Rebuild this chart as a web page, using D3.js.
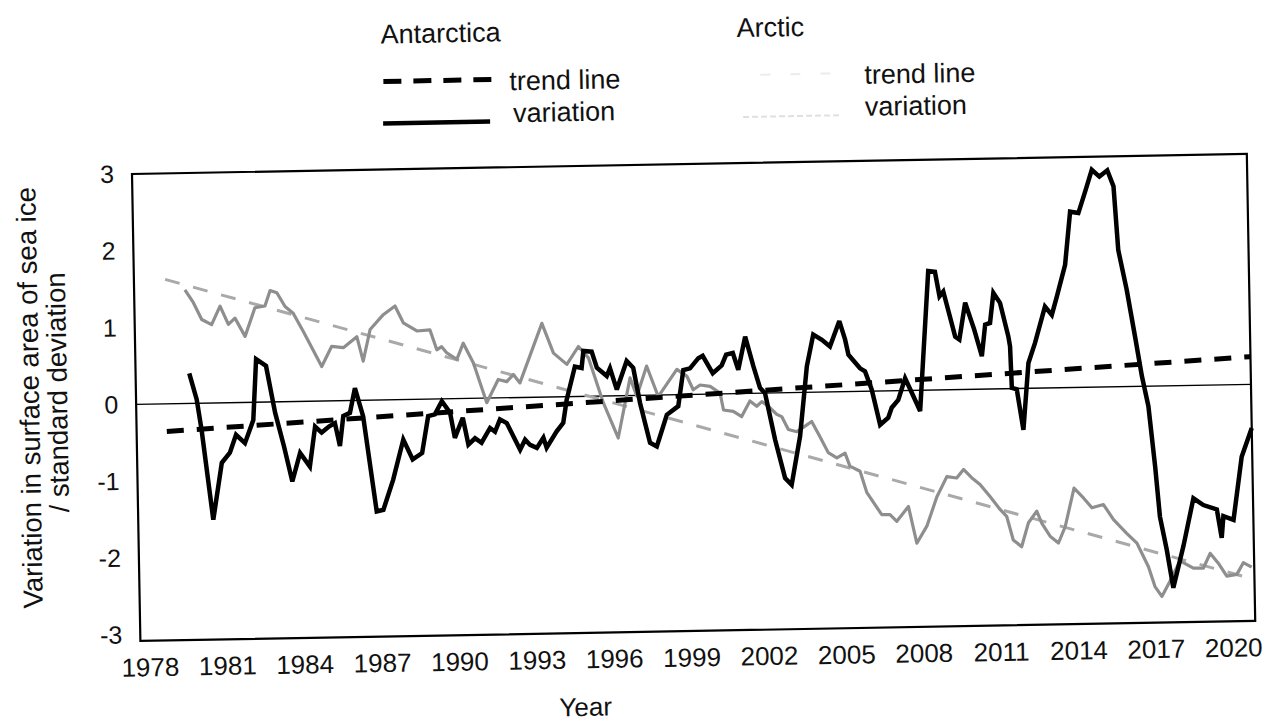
<!DOCTYPE html>
<html><head><meta charset="utf-8">
<script src="https://cdn.jsdelivr.net/npm/d3@7"></script>
<style>
html,body{margin:0;padding:0;background:#fff;}
svg{display:block;font-family:"Liberation Sans",Arial,Helvetica,sans-serif;}
</style>
</head><body>
<div id="chart"></div>
<script>
// ---------- data ----------
const xTickYears = [1978,1981,1984,1987,1990,1993,1996,1999,2002,2005,2008,2011,2014,2017,2020];
const yTickValues = [-3,-2,-1,0,1,2,3];

const antarcticYears = [1979.73,1980.00,1980.17,1980.56,1980.93,1981.25,1981.50,1981.84,1982.18,1982.33,1982.71,1983.03,1983.35,1983.65,1983.97,1984.34,1984.57,1984.82,1985.12,1985.34,1985.52,1985.67,1985.93,1986.14,1986.44,1986.90,1987.16,1987.56,1987.98,1988.33,1988.70,1988.96,1989.22,1989.50,1989.81,1989.98,1990.30,1990.50,1990.76,1991.01,1991.35,1991.54,1991.74,1992.00,1992.50,1992.70,1992.89,1993.15,1993.41,1993.53,1993.93,1994.19,1994.34,1994.68,1994.94,1995.02,1995.34,1995.53,1995.91,1996.04,1996.29,1996.69,1996.94,1997.18,1997.54,1997.80,1998.21,1998.66,1998.88,1999.14,1999.47,1999.64,2000.02,2000.37,2000.55,2000.81,2001.01,2001.30,2001.60,2001.84,2002.03,2002.39,2002.75,2003.00,2003.36,2003.67,2003.94,2004.27,2004.58,2004.96,2005.17,2005.29,2005.73,2005.92,2006.17,2006.47,2006.79,2006.93,2007.19,2007.47,2007.72,2008.03,2008.44,2008.70,2008.86,2009.01,2009.44,2009.60,2009.85,2010.18,2010.46,2010.61,2010.80,2010.95,2011.20,2011.50,2011.56,2011.60,2011.79,2012.02,2012.26,2012.53,2012.94,2013.20,2013.41,2013.75,2013.98,2014.30,2014.58,2014.85,2015.14,2015.45,2015.68,2015.82,2016.12,2016.41,2016.65,2016.88,2017.10,2017.25,2017.49,2017.72,2018.14,2018.56,2018.94,2019.46,2019.63,2019.71,2020.10,2020.46,2020.87];
const antarcticValues = [0.39,0.05,-0.35,-1.52,-0.78,-0.65,-0.42,-0.53,-0.23,0.56,0.47,-0.14,-0.58,-1.04,-0.67,-0.85,-0.33,-0.41,-0.33,-0.29,-0.59,-0.20,-0.16,0.16,-0.21,-1.45,-1.43,-1.04,-0.52,-0.78,-0.70,-0.22,-0.20,-0.03,-0.18,-0.51,-0.25,-0.60,-0.52,-0.58,-0.39,-0.44,-0.28,-0.33,-0.68,-0.55,-0.62,-0.66,-0.53,-0.66,-0.45,-0.34,-0.04,0.39,0.37,0.59,0.58,0.37,0.26,0.36,0.08,0.45,0.36,-0.10,-0.62,-0.67,-0.26,-0.15,0.32,0.34,0.47,0.50,0.27,0.37,0.51,0.53,0.31,0.74,0.35,0.07,0.00,-0.61,-1.11,-1.20,-0.57,0.34,0.75,0.68,0.59,0.92,0.68,0.48,0.30,0.26,0.02,-0.44,-0.35,-0.22,-0.12,0.16,-0.03,-0.27,1.55,1.54,1.22,1.28,0.69,0.65,1.13,0.78,0.43,0.84,0.86,1.25,1.12,0.68,0.55,0.01,-0.01,-0.54,0.33,0.59,1.06,0.95,1.19,1.60,2.29,2.27,2.55,2.83,2.74,2.82,2.61,1.78,1.26,0.65,0.13,-0.26,-1.05,-1.70,-2.13,-2.63,-2.09,-1.47,-1.56,-1.62,-1.99,-1.71,-1.76,-0.94,-0.57];

const arcticYears = [1979.62,1979.94,1980.25,1980.63,1980.97,1981.28,1981.54,1981.92,1982.32,1982.71,1982.92,1983.18,1983.49,1983.80,1984.18,1984.87,1985.27,1985.72,1986.25,1986.48,1986.77,1987.29,1987.75,1988.06,1988.58,1989.09,1989.34,1989.53,1989.72,1990.11,1990.37,1990.75,1991.24,1991.70,1992.03,1992.29,1992.54,1993.43,1993.86,1994.37,1994.83,1995.21,1995.76,1996.31,1996.81,1997.06,1997.46,1997.89,1998.63,1999.01,1999.25,1999.52,1999.91,2000.29,2000.41,2000.79,2001.11,2001.44,2001.70,2001.90,2002.15,2002.47,2002.66,2002.91,2003.24,2003.56,2003.82,2004.13,2004.44,2004.77,2005.09,2005.27,2005.66,2005.91,2006.47,2006.79,2007.05,2007.51,2007.81,2008.21,2008.62,2009.02,2009.40,2009.67,2009.98,2010.30,2010.68,2011.06,2011.31,2011.55,2011.87,2012.15,2012.48,2012.67,2012.98,2013.30,2013.57,2013.94,2014.30,2014.62,2015.07,2015.45,2015.95,2016.34,2016.52,2016.77,2017.01,2017.27,2017.60,2018.00,2018.51,2018.90,2019.17,2019.48,2019.80,2020.19,2020.45,2020.77];
const arcticValues = [1.48,1.31,1.09,1.02,1.26,1.02,1.10,0.86,1.23,1.25,1.45,1.42,1.24,1.15,0.91,0.45,0.71,0.69,0.83,0.51,0.92,1.11,1.22,1.00,0.89,0.90,0.64,0.68,0.60,0.51,0.72,0.46,-0.06,0.24,0.21,0.30,0.19,0.96,0.57,0.42,0.65,0.50,-0.09,-0.55,0.23,-0.01,0.38,-0.02,0.33,0.24,0.06,0.12,0.10,0.01,-0.21,-0.23,-0.30,-0.10,-0.17,-0.11,-0.17,-0.28,-0.31,-0.48,-0.51,-0.44,-0.38,-0.58,-0.79,-0.86,-0.80,-0.97,-1.04,-1.32,-1.61,-1.61,-1.70,-1.51,-1.99,-1.77,-1.39,-1.13,-1.15,-1.04,-1.15,-1.24,-1.40,-1.57,-1.66,-1.97,-2.06,-1.75,-1.60,-1.76,-1.93,-2.02,-1.81,-1.31,-1.44,-1.57,-1.53,-1.73,-1.91,-2.04,-2.17,-2.35,-2.61,-2.74,-2.54,-2.28,-2.38,-2.38,-2.19,-2.32,-2.49,-2.47,-2.32,-2.38];

const antarcticTrendYears = [1978.82, 2020.86];
const antarcticTrendValues = [-0.36, 0.36];
const arcticTrendYears = [1978.86, 2020.86];
const arcticTrendValues = [1.62, -2.54];

const yTitleLines = ["Variation in surface area of sea ice", "/ standard deviation"];
const xTitle = "Year";
const groupTitles = ["Antarctica", "Arctic"];
const legendLabels = ["trend line", "variation"];

// ---------- layout ----------
const W = 1263, H = 724;
const L = 132, T = 174, PW = 1115, PH = 467;
const tilt = -1.03;

const svg = d3.select("#chart").append("svg").attr("width", W).attr("height", H);
svg.append("rect").attr("width", W).attr("height", H).attr("fill", "#fff");
const g = svg.append("g").attr("transform", `rotate(${tilt},${L},${T})`);

const x = d3.scaleLinear().domain([1977.65, 2020.87]).range([L, L + PW]);
const y = d3.scaleLinear().domain([-3.08, 3]).range([T + PH, T]);

const line = d3.line().x(d => x(d[0])).y(d => y(d[1]));
const zip = (a, b) => a.map((v, i) => [v, b[i]]);

// zero line
g.append("line").attr("x1", L).attr("x2", L + PW).attr("y1", y(0)).attr("y2", y(0))
  .attr("stroke", "#000").attr("stroke-width", 1.4);

// Arctic
g.append("path").datum(zip(arcticTrendYears, arcticTrendValues)).attr("d", line)
  .attr("fill", "none").attr("stroke", "#a9a9a9").attr("stroke-width", 3).attr("stroke-dasharray", "15 14");
g.append("path").datum(zip(arcticYears, arcticValues)).attr("d", line)
  .attr("fill", "none").attr("stroke", "#8e8e8e").attr("stroke-width", 3.2).attr("stroke-linejoin", "round");

// Antarctica
g.append("path").datum(zip(antarcticTrendYears, antarcticTrendValues)).attr("d", line)
  .attr("fill", "none").attr("stroke", "#000").attr("stroke-width", 5).attr("stroke-dasharray", "17 13");
g.append("path").datum(zip(antarcticYears, antarcticValues)).attr("d", line)
  .attr("fill", "none").attr("stroke", "#000").attr("stroke-width", 4.5).attr("stroke-linejoin", "miter").attr("stroke-miterlimit", 3);

// frame
g.append("rect").attr("x", L).attr("y", T).attr("width", PW).attr("height", PH)
  .attr("fill", "none").attr("stroke", "#000").attr("stroke-width", 2.2);

// axes
const xAxis = g.append("g").attr("transform", `translate(0,${T + PH})`)
  .call(d3.axisBottom(x).tickValues(xTickYears).tickSize(0).tickPadding(17).tickFormat(d => String(d)));
xAxis.select(".domain").remove();
xAxis.selectAll("text").attr("font-size", 26).attr("fill", "#111").style("font-family", "Liberation Sans, Arial, sans-serif");

const yAxis = g.append("g").attr("transform", `translate(${L},0)`)
  .call(d3.axisLeft(y).tickValues(yTickValues).tickSize(0).tickPadding(18).tickFormat(d => String(d)));
yAxis.select(".domain").remove();
yAxis.selectAll("text").attr("font-size", 25).attr("fill", "#111").style("font-family", "Liberation Sans, Arial, sans-serif");

// titles
g.append("text").attr("transform", "translate(35,396) rotate(-90)").attr("text-anchor", "middle")
  .attr("font-size", 27.5).attr("fill", "#111").text(yTitleLines[0]);
g.append("text").attr("transform", "translate(63,391) rotate(-90)").attr("text-anchor", "middle")
  .attr("font-size", 27.5).attr("fill", "#111").text(yTitleLines[1]);
g.append("text").attr("x", 576).attr("y", 724).attr("text-anchor", "middle")
  .attr("font-size", 26).attr("fill", "#111").text(xTitle);

// legend
const leg = g.append("g").attr("fill", "#111").attr("font-size", 27);
leg.append("text").attr("x", 383).attr("y", 48).text(groupTitles[0]);
leg.append("text").attr("x", 739).attr("y", 48).text(groupTitles[1]);
leg.append("line").attr("x1", 385).attr("x2", 493).attr("y1", 86).attr("y2", 86)
  .attr("stroke", "#000").attr("stroke-width", 5).attr("stroke-dasharray", "18 12");
leg.append("text").attr("x", 511).attr("y", 97).text(legendLabels[0]);
leg.append("line").attr("x1", 384).attr("x2", 491).attr("y1", 128).attr("y2", 128)
  .attr("stroke", "#000").attr("stroke-width", 4.5);
leg.append("text").attr("x", 514).attr("y", 129).text(legendLabels[1]);
leg.append("line").attr("x1", 762).attr("x2", 852).attr("y1", 86).attr("y2", 86)
  .attr("stroke", "#ececec").attr("stroke-width", 2).attr("stroke-dasharray", "10 20");
leg.append("text").attr("x", 866).attr("y", 97).text(legendLabels[0]);
leg.append("line").attr("x1", 744).attr("x2", 842).attr("y1", 128).attr("y2", 128)
  .attr("stroke", "#e0e0e0").attr("stroke-width", 2).attr("stroke-dasharray", "6 3");
leg.append("text").attr("x", 866).attr("y", 129).text(legendLabels[1]);
</script>
</body></html>
